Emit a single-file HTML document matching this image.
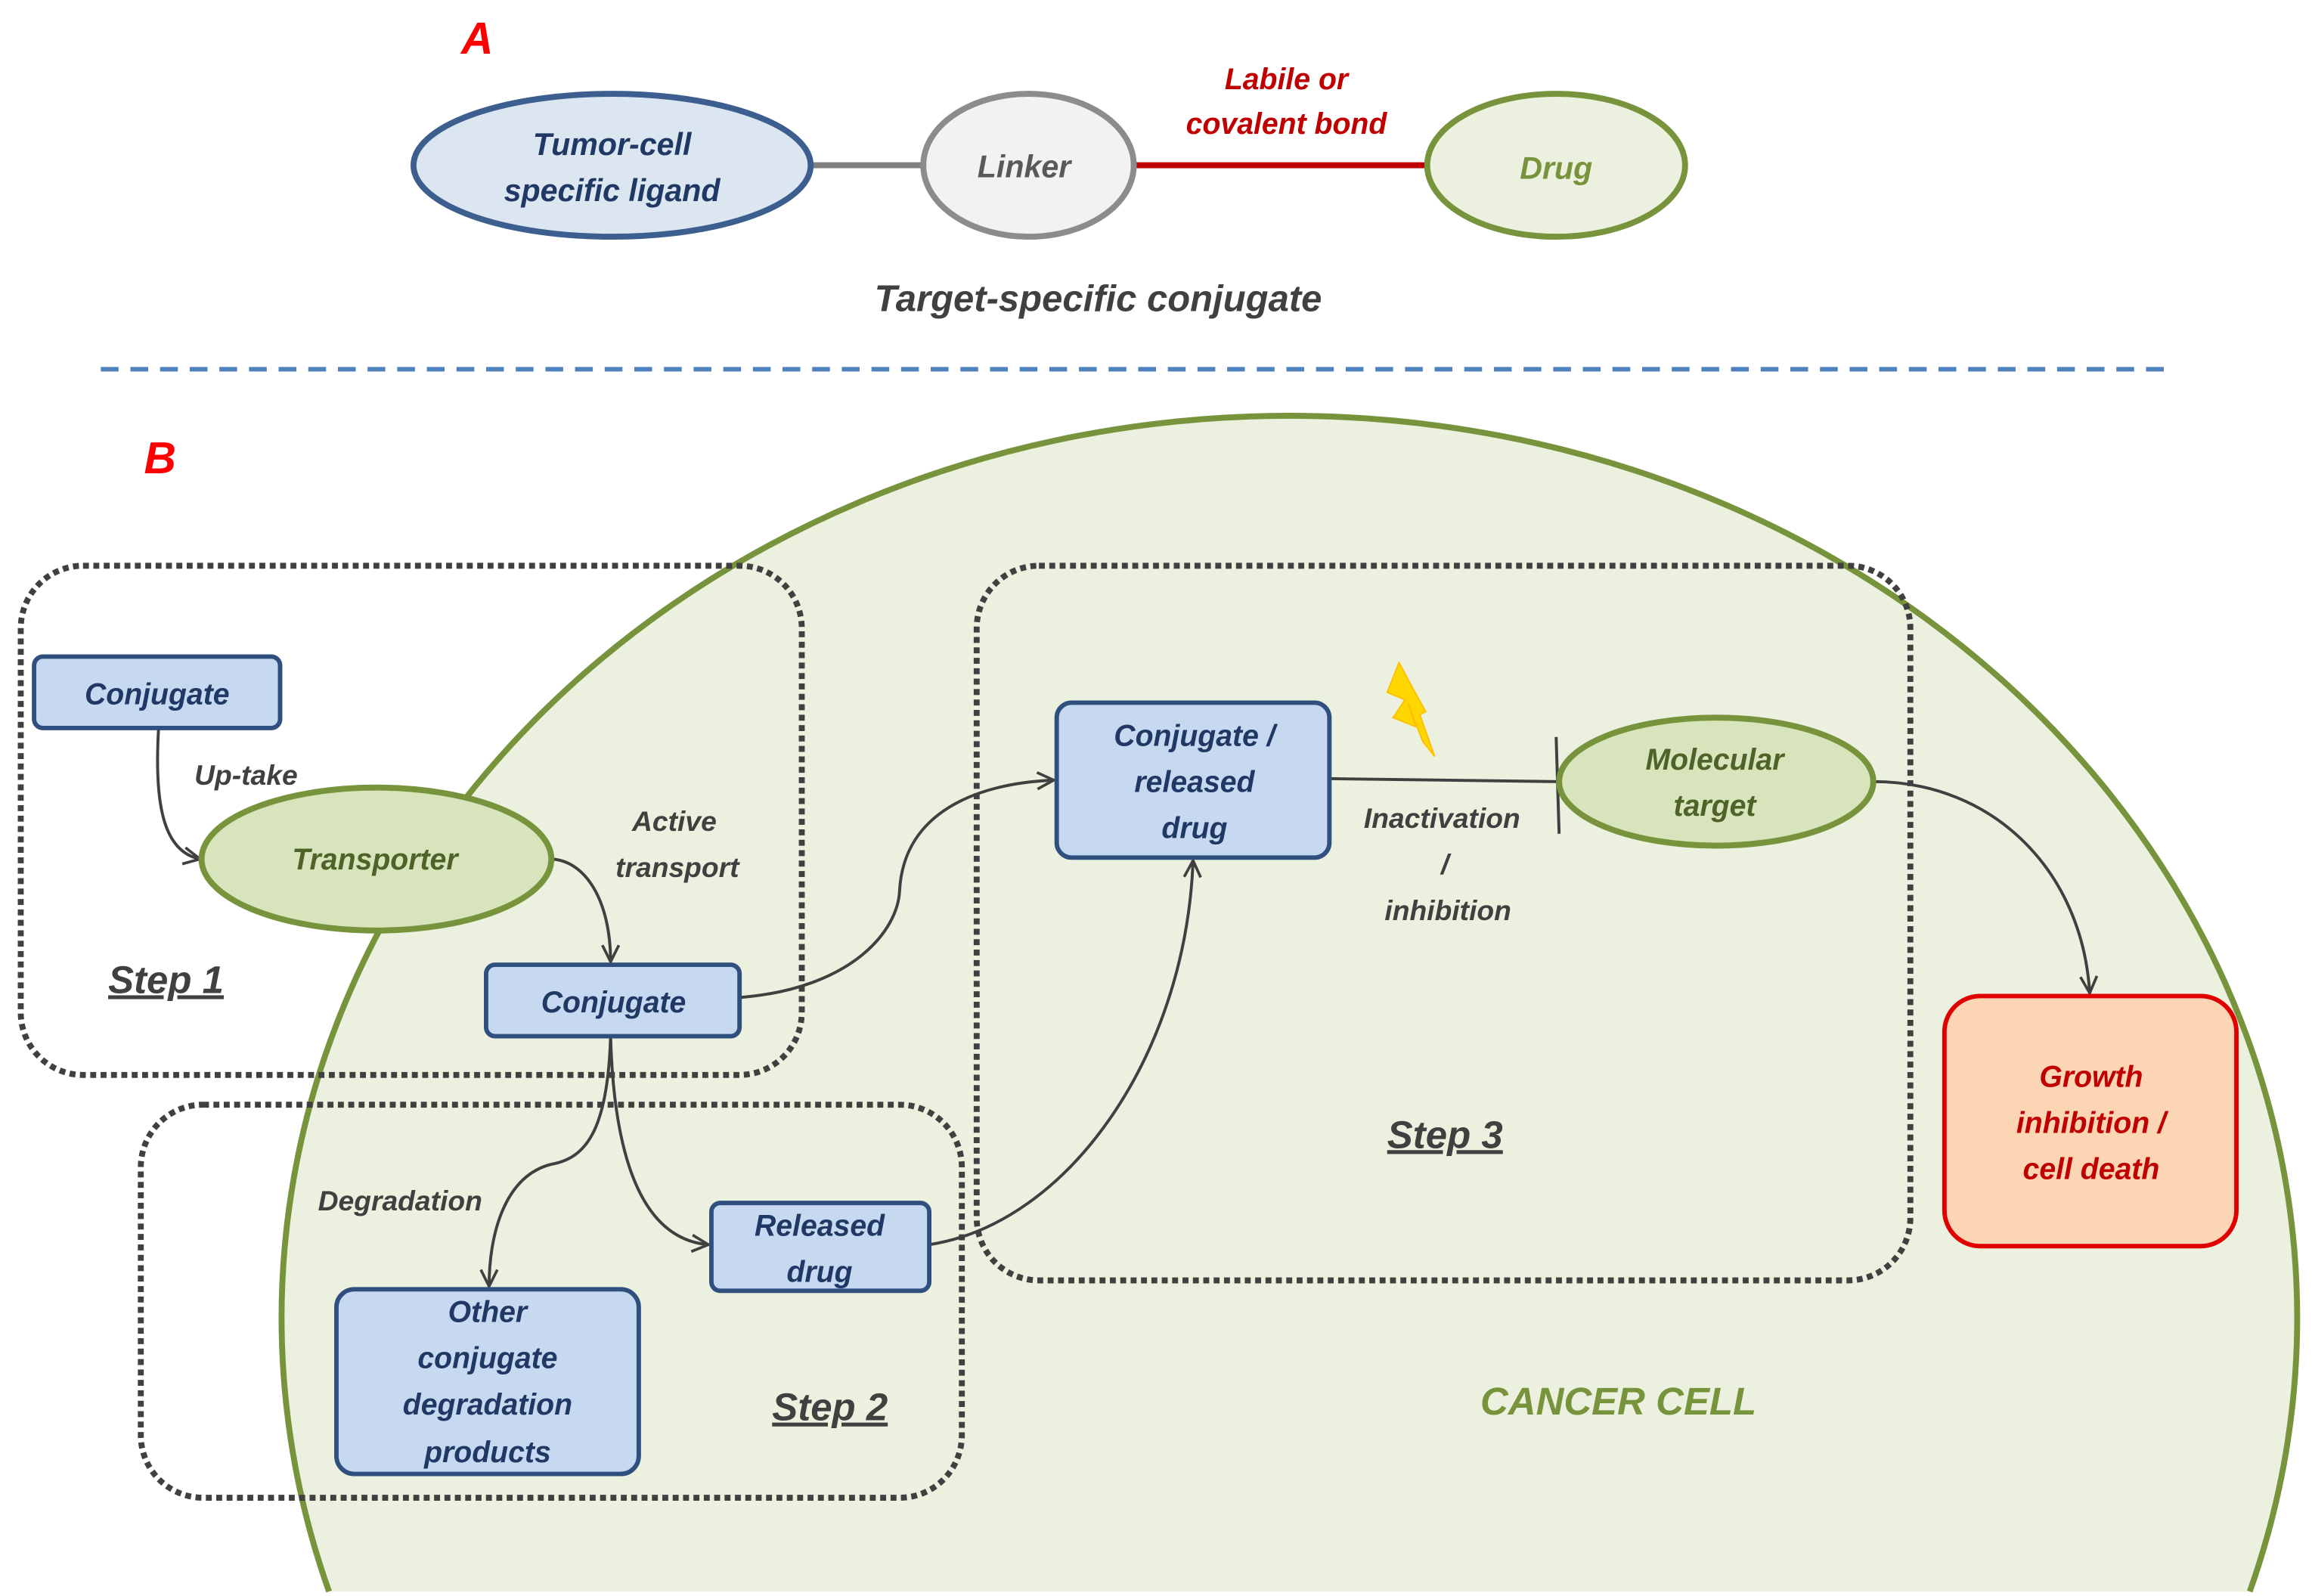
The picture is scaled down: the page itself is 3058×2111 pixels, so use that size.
<!DOCTYPE html>
<html><head><meta charset="utf-8"><style>
html,body{margin:0;padding:0;background:#fff;width:3058px;height:2111px;overflow:hidden;}
svg{display:block;position:absolute;left:0;top:0;}
text{font-family:"Liberation Sans",sans-serif;font-style:italic;font-weight:bold;}
</style></head><body>
<svg width="3058" height="2111" viewBox="0 0 1560 1072" preserveAspectRatio="none" xmlns="http://www.w3.org/2000/svg">
<defs>
<marker id="ar" viewBox="0 0 14 14" refX="13" refY="7" markerWidth="13" markerHeight="13" orient="auto" markerUnits="userSpaceOnUse">
<path d="M1,1 L13,7 L1,13" fill="none" stroke="#404040" stroke-width="2"/></marker>
</defs>
<text x="322" y="36" font-size="30" fill="#ff0000" text-anchor="middle">A</text>
<line x1="546" y1="111" x2="624" y2="111" stroke="#808080" stroke-width="4"/>
<line x1="766" y1="111" x2="964" y2="111" stroke="#c00000" stroke-width="4"/>
<ellipse cx="413" cy="111" rx="134" ry="48" fill="#dce6f1" stroke="#3d5f8f" stroke-width="4"/>
<ellipse cx="694" cy="111" rx="71" ry="48" fill="#f2f2f2" stroke="#8c8c8c" stroke-width="4"/>
<ellipse cx="1050" cy="111" rx="87" ry="48" fill="#ebf1de" stroke="#77933c" stroke-width="4"/>
<text x="413" y="104" font-size="21" fill="#1f3864" text-anchor="middle">Tumor-cell</text>
<text x="413" y="135" font-size="21" fill="#1f3864" text-anchor="middle">specific ligand</text>
<text x="691" y="119" font-size="21" fill="#595959" text-anchor="middle">Linker</text>
<text x="1050" y="120" font-size="21" fill="#77933c" text-anchor="middle">Drug</text>
<text x="868" y="60" font-size="20" fill="#c00000" text-anchor="middle">Labile or</text>
<text x="868" y="90" font-size="20" fill="#c00000" text-anchor="middle">covalent bond</text>
<text x="741" y="209" font-size="25" fill="#404040" text-anchor="middle">Target-specific conjugate</text>
<line x1="68" y1="248" x2="1462" y2="248" stroke="#4f81bd" stroke-width="3" stroke-dasharray="12 8"/>
<text x="108" y="318" font-size="30" fill="#ff0000" text-anchor="middle">B</text>
<path d="M222,1069 A680,606 0 1 1 1518,1069" fill="#ebf1de" stroke="#77933c" stroke-width="4"/>
<rect x="14" y="380" width="527" height="342" rx="42" fill="none" stroke="#404040" stroke-width="4" stroke-dasharray="4 3"/>
<rect x="659" y="380" width="630" height="480" rx="42" fill="none" stroke="#404040" stroke-width="4" stroke-dasharray="4 3"/>
<rect x="95" y="742" width="554" height="264" rx="42" fill="none" stroke="#404040" stroke-width="4" stroke-dasharray="4 3"/>
<g fill="none" stroke="#404040" stroke-width="2">
<path d="M107,489 C104,540 110,572 135,577" marker-end="url(#ar)"/>
<path d="M372,577 C395,578 412,605 412,646" marker-end="url(#ar)"/>
<path d="M499,670 C575,664 606,625 607,598 C610,545 660,526 711,524" marker-end="url(#ar)"/>
<path d="M412,696 C414,770 430,832 478,836" marker-end="url(#ar)"/>
<path d="M412,696 C410,760 395,778 372,782 C340,790 330,830 330,864" marker-end="url(#ar)"/>
<path d="M627,836 C720,822 800,710 805,578" marker-end="url(#ar)"/>
<path d="M897,523 L1050,525"/>
<path d="M1264,525 C1345,525 1405,585 1410,667" marker-end="url(#ar)"/>
</g>
<line x1="1050" y1="495" x2="1052" y2="560" stroke="#404040" stroke-width="2"/>
<polygon points="944,445 936,465 948,470 940,482 955,488 950,472 960,498 968,508 958,480 962,478 952,460" fill="#ffd700" stroke="#ffc000" stroke-width="1"/>
<rect x="23" y="441" width="166" height="48" rx="6" fill="#c6d9f1" stroke="#2f4f7f" stroke-width="3"/>
<text x="106" y="473" font-size="20" fill="#1f3864" text-anchor="middle">Conjugate</text>
<ellipse cx="254" cy="577" rx="118" ry="48" fill="#d7e4bc" stroke="#77933c" stroke-width="4"/>
<text x="253" y="584" font-size="20" fill="#4f6228" text-anchor="middle">Transporter</text>
<rect x="328" y="648" width="171" height="48" rx="6" fill="#c6d9f1" stroke="#2f4f7f" stroke-width="3"/>
<text x="414" y="680" font-size="20" fill="#1f3864" text-anchor="middle">Conjugate</text>
<rect x="713" y="472" width="184" height="104" rx="10" fill="#c6d9f1" stroke="#2f4f7f" stroke-width="3"/>
<text x="806" y="501" font-size="20" fill="#1f3864" text-anchor="middle">Conjugate /</text>
<text x="806" y="532" font-size="20" fill="#1f3864" text-anchor="middle">released</text>
<text x="806" y="563" font-size="20" fill="#1f3864" text-anchor="middle">drug</text>
<ellipse cx="1158" cy="525" rx="106" ry="43" fill="#d7e4bc" stroke="#77933c" stroke-width="4"/>
<text x="1157" y="517" font-size="20" fill="#4f6228" text-anchor="middle">Molecular</text>
<text x="1157" y="548" font-size="20" fill="#4f6228" text-anchor="middle">target</text>
<rect x="1312" y="669" width="197" height="168" rx="24" fill="#fcd5b5" stroke="#e00000" stroke-width="3"/>
<text x="1411" y="730" font-size="20" fill="#c00000" text-anchor="middle">Growth</text>
<text x="1411" y="761" font-size="20" fill="#c00000" text-anchor="middle">inhibition /</text>
<text x="1411" y="792" font-size="20" fill="#c00000" text-anchor="middle">cell death</text>
<rect x="480" y="808" width="147" height="59" rx="6" fill="#c6d9f1" stroke="#2f4f7f" stroke-width="3"/>
<text x="553" y="830" font-size="20" fill="#1f3864" text-anchor="middle">Released</text>
<text x="553" y="861" font-size="20" fill="#1f3864" text-anchor="middle">drug</text>
<rect x="227" y="866" width="204" height="124" rx="12" fill="#c6d9f1" stroke="#2f4f7f" stroke-width="3"/>
<text x="329" y="888" font-size="20" fill="#1f3864" text-anchor="middle">Other</text>
<text x="329" y="919" font-size="20" fill="#1f3864" text-anchor="middle">conjugate</text>
<text x="329" y="950" font-size="20" fill="#1f3864" text-anchor="middle">degradation</text>
<text x="329" y="982" font-size="20" fill="#1f3864" text-anchor="middle">products</text>
<g font-size="19" fill="#404040">
<text x="166" y="527" text-anchor="middle">Up-take</text>
<text x="455" y="558" text-anchor="middle">Active</text>
<text x="457" y="589" text-anchor="middle">transport</text>
<text x="270" y="813" text-anchor="middle">Degradation</text>
<text x="973" y="556" text-anchor="middle">Inactivation</text>
<text x="975" y="587" text-anchor="middle">/</text>
<text x="977" y="618" text-anchor="middle">inhibition</text>
</g>
<g font-size="26" fill="#404040" text-decoration="underline">
<text x="112" y="667" text-anchor="middle">Step 1</text>
<text x="975" y="771" text-anchor="middle">Step 3</text>
<text x="560" y="954" text-anchor="middle">Step 2</text>
</g>
<text x="1092" y="950" font-size="26" fill="#77933c" font-weight="normal" text-anchor="middle">CANCER CELL</text>
</svg>
</body></html>
